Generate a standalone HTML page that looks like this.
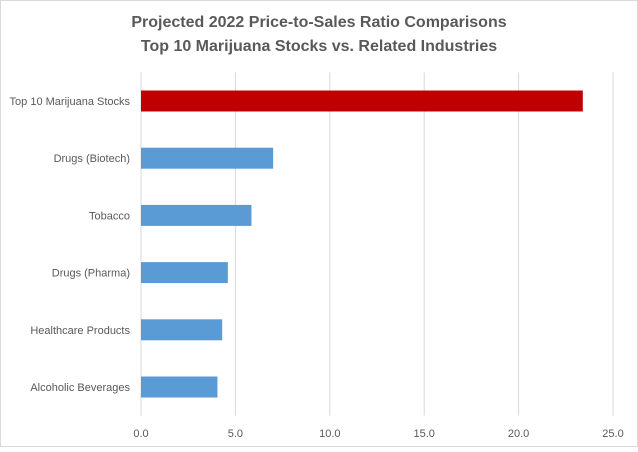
<!DOCTYPE html>
<html><head><meta charset="utf-8"><style>
body{margin:0;background:#fff;font-family:"Liberation Sans",sans-serif}
</style></head><body>
<svg width="638" height="447" id="c" xmlns="http://www.w3.org/2000/svg">
<rect x="0.5" y="0.5" width="637" height="446" fill="#fff" stroke="#d9d9d9"/>
<text x="319" y="27" text-anchor="middle" font-size="16" font-weight="bold" fill="#595959">Projected 2022 Price-to-Sales Ratio Comparisons</text>
<text x="319" y="51" text-anchor="middle" font-size="16" font-weight="bold" fill="#595959">Top 10 Marijuana Stocks vs. Related Industries</text>
</svg>
<script>
const categories=["Top 10 Marijuana Stocks","Drugs (Biotech)","Tobacco","Drugs (Pharma)","Healthcare Products","Alcoholic Beverages"];
const values=[23.4,7.0,5.85,4.6,4.3,4.05];
const colors=["#c00000","#5b9bd5","#5b9bd5","#5b9bd5","#5b9bd5","#5b9bd5"];
const ticks=[0,5,10,15,20,25];
const tickLabels=["0.0","5.0","10.0","15.0","20.0","25.0"];
const svg=document.getElementById('c');const NS="http://www.w3.org/2000/svg";
const x0=141,x1=613,yTop=72.4,yBot=415.6,xMax=25;
const xs=v=>x0+(v/xMax)*(x1-x0);
const slot=(yBot-yTop)/categories.length;
const yc=i=>yTop+slot*(i+0.5);
function mk(t,a){const e=document.createElementNS(NS,t);for(const k in a)e.setAttribute(k,a[k]);svg.appendChild(e);return e;}
ticks.forEach((t,i)=>{
 const g=mk('line',{x1:xs(t),x2:xs(t),y1:yTop,y2:yBot,stroke:'#d9d9d9','stroke-width':1});
 
 
 const l=mk('text',{x:xs(t),y:437,'text-anchor':'middle','font-size':11,fill:'#595959'});
 l.textContent=tickLabels[i];
 
 
});
categories.forEach((c,i)=>{
 const b=mk('rect',{x:x0,y:yc(i)-10.5,width:xs(values[i])-x0,height:21,fill:colors[i]});
 
 
 const l=mk('text',{x:130,y:yc(i)+4,'text-anchor':'end','font-size':11,fill:'#595959'});
 l.textContent=c;
 
 
});
</script>
</body></html>
